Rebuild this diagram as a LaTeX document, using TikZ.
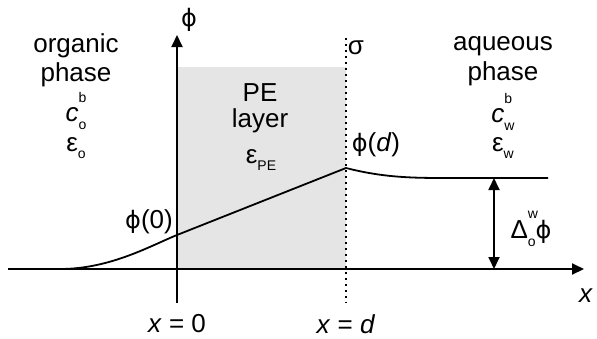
\documentclass[tikz,border=0pt]{standalone}
\usepackage{fontspec}
\setmainfont{Liberation Sans}
\newfontfamily\phifont{DejaVu Sans}
\usetikzlibrary{arrows.meta}
\newcommand\ssb[2]{\rlap{\raisebox{0.75em}{\fontsize{14}{14}\selectfont #1}}\raisebox{-0.3em}{\fontsize{14}{14}\selectfont #2}}
\newcommand\sbonly[1]{\raisebox{-0.3em}{\fontsize{14}{14}\selectfont #1}}
\newcommand\myphi{{\phifont\fontsize{24}{28}\selectfont ϕ}}
\begin{document}
\begin{tikzpicture}[x=1pt,y=-1pt,
  lbl/.style={inner sep=0pt,font=\fontsize{26}{30}\selectfont, align=center},
  axisline/.style={line width=2pt},
  tip/.style={-{Triangle[length=12pt,width=11pt]}}]
\useasboundingbox (0,0) rectangle (597,338);
\fill[black!10] (177,67) rectangle (346,269);
% coordinates
\coordinate (xl) at (8,269);
\coordinate (xr) at (584,269);
\coordinate (yb) at (177,303);
\coordinate (yt) at (177,35);
\coordinate (dt) at (346,38);
\coordinate (db) at (346,303);
\coordinate (c0) at (60,269);
\coordinate (p0) at (177,235);
\coordinate (pd) at (346,168);
\coordinate (pl) at (450,178);
\coordinate (pe) at (548,178);
\coordinate (at) at (494,178);
\coordinate (ab) at (494,269);
\draw[axisline,tip] (xl) -- (xr);
\draw[axisline,tip] (yb) -- (yt);
\draw[line width=2pt,dash pattern=on 2pt off 4pt] (dt) -- (db);
\draw[line width=1.8pt] (c0) .. controls (110,269) and (150,246) .. (p0) -- (pd)
  .. controls (385,178) and (415,178) .. (pl) -- (pe);
\draw[line width=1.8pt,{Triangle[length=12pt,width=11pt]}-{Triangle[length=12pt,width=11pt]}] (at) -- (ab);
% labels
\node[lbl] (phi) at (189,20) {\myphi};
\node[lbl] (sig) at (356,48) {σ};
\node[lbl] (xlab) at (586,296) {\textit{x}};
\node[lbl] (x0) at (177,324) {\textit{x} = 0};
\node[lbl] (xd) at (346,324) {\textit{x} = \textit{d}};
\node[lbl] (phi0) at (149,222) {\myphi(0)};
\node[lbl] (phid) at (376,145) {\myphi(\textit{d})};
\node[lbl] (dphi) at (531,229) {Δ\ssb{w}{o}\myphi};
\node[lbl] (org) at (76,46) {organic};
\node[lbl] (orgp) at (76,75) {phase};
\node[lbl] (co) at (76,111) {\textit{c}\ssb{b}{o}};
\node[lbl] (eo) at (76,148) {ε\sbonly{o}};
\node[lbl] (pe1) at (260,93) {PE};
\node[lbl] (pe2) at (260,121) {layer};
\node[lbl] (epe) at (261,160) {ε\sbonly{PE}};
\node[lbl] (aq) at (503,46) {aqueous};
\node[lbl] (aqp) at (503,74) {phase};
\node[lbl] (cw) at (503,112) {\textit{c}\ssb{b}{w}};
\node[lbl] (ew) at (503,148) {ε\sbonly{w}};
\end{tikzpicture}
\end{document}
